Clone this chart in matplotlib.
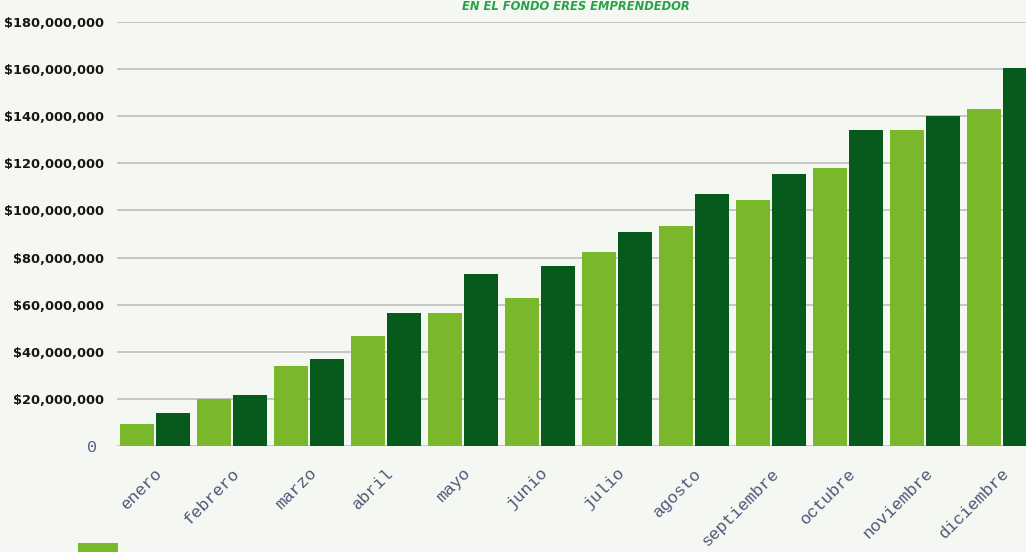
import numpy as np
import matplotlib
matplotlib.use("Agg")
import matplotlib.pyplot as plt
from matplotlib.ticker import FuncFormatter
from matplotlib.transforms import ScaledTranslation

# monthly amounts (pesos)
meses = ["enero", "febrero", "marzo", "abril", "mayo", "junio", "julio",
         "agosto", "septiembre", "octubre", "noviembre", "diciembre"]
serie_a = [9.2e6, 20.0e6, 33.9e6, 46.7e6, 56.4e6, 62.9e6, 82.5e6,
           93.4e6, 104.3e6, 118.0e6, 134.3e6, 143.1e6]
serie_b = [13.9e6, 21.5e6, 37.0e6, 56.4e6, 73.2e6, 76.4e6, 90.7e6,
           107.0e6, 115.3e6, 134.3e6, 140.0e6, 160.6e6]
y_ticks = [0, 20e6, 40e6, 60e6, 80e6, 100e6, 120e6, 140e6, 160e6, 180e6]
titulo = "EN EL FONDO ERES EMPRENDEDOR"

verde_claro = "#78b82a"
verde_oscuro = "#055a1c"
bg = "#f5f8f2"

fig = plt.figure(figsize=(10.26, 5.52), dpi=100, facecolor=bg)
# axes runs past the right edge, the last bar is cut off like in the original
ax = fig.add_axes([116.5 / 1026, 106 / 552, 924 / 1026, 424 / 552])
ax.set_facecolor("none")

x = np.arange(len(meses))
w = 0.44
b1 = ax.bar(x - 0.234, serie_a, width=w, color=verde_claro, zorder=3)
b2 = ax.bar(x + 0.234, serie_b, width=w, color=verde_oscuro, zorder=3)

ax.set_xlim(-0.5, len(meses) - 0.5)
ax.set_ylim(0, 180e6)
ax.set_yticks(y_ticks)
ax.yaxis.set_major_formatter(FuncFormatter(lambda v, p: "0" if v == 0 else "${:,.0f}".format(v)))
ax.grid(axis="y", color="#b9b9b9", linewidth=1.1, zorder=0)
ax.set_axisbelow(True)
for s in ax.spines.values():
    s.set_visible(False)
ax.tick_params(axis="both", length=0)
ax.tick_params(axis="y", pad=9)

for lbl in ax.get_yticklabels():
    lbl.set_fontfamily("DejaVu Sans")
    lbl.set_fontweight("bold")
    lbl.set_fontsize(9.4)
    lbl.set_color("#161616")
zero = ax.get_yticklabels()[0]
zero.set_fontfamily("Liberation Mono")
zero.set_fontweight("normal")
zero.set_fontsize(12)
zero.set_color("#56607e")
zero.set_transform(zero.get_transform() + ScaledTranslation(-0.07, 0, fig.dpi_scale_trans))

ax.set_xticks(x)
ax.set_xticklabels(meses, rotation=45, ha="right", rotation_mode="anchor",
                   fontfamily="Liberation Mono", fontsize=12.3, color="#4d5878")
ax.tick_params(axis="x", pad=14)

fig.text(576 / 1026, 1 - 7 / 552, titulo, ha="center", va="center",
         fontsize=8.3, fontweight="bold", fontstyle="italic", color="#25a347")

fig.legend(handles=[b1, b2], labels=["", ""], loc="upper left",
           bbox_to_anchor=(78 / 1026, 1 - 543 / 552), frameon=False,
           handlelength=2.9, handleheight=1.0, borderpad=0, borderaxespad=0,
           handletextpad=0.4, labelspacing=0.6, fontsize=10)

fig.savefig("out.png", dpi=100, facecolor=bg)
